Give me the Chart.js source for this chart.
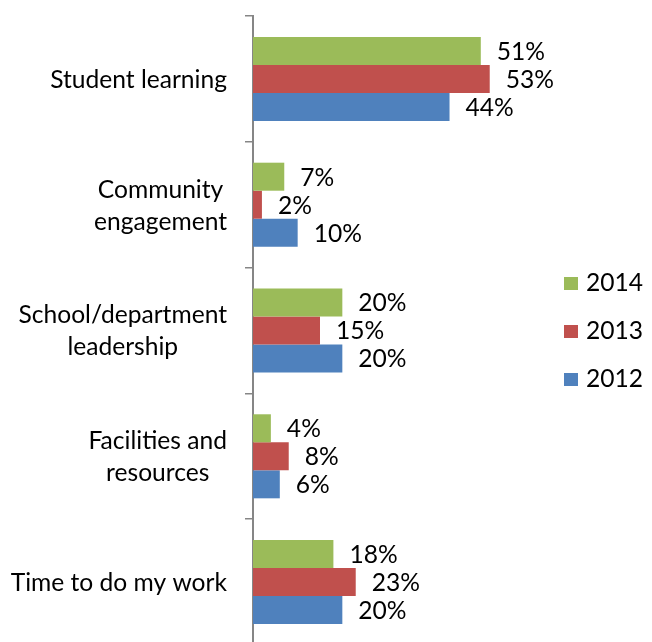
<!DOCTYPE html>
<html>
<head>
<meta charset="utf-8">
<script src="https://cdn.jsdelivr.net/npm/chart.js@4"></script>
<style>
  html, body { margin: 0; padding: 0; background: #fff; overflow: hidden; }
  canvas { display: block; }
</style>
</head>
<body>
<canvas id="myChart" width="652" height="645"></canvas>
<script>
const categories = [
  ["Student learning"],
  ["Community", "engagement"],
  ["School/department", "leadership"],
  ["Facilities and", "resources"],
  ["Time to do my work"],
];
const years = ["2014", "2013", "2012"];
const values2014 = [51, 7, 20, 4, 18];
const values2013 = [53, 2, 15, 8, 23];
const values2012 = [44, 10, 20, 6, 20];
const colors = ["#9bbb59", "#c0504d", "#4f81bd"];

const FONT = "Lato, 'Open Sans', sans-serif";
const FONT_SIZE = 24.6;

// value labels to the right of each bar
const barLabels = {
  id: "barLabels",
  afterDatasetsDraw(chart) {
    const c = chart.ctx;
    c.save();
    c.font = FONT_SIZE + "px " + FONT;
    c.fillStyle = "#000";
    c.textAlign = "left";
    c.textBaseline = "middle";
    chart.data.datasets.forEach((ds, i) => {
      chart.getDatasetMeta(i).data.forEach((bar, j) => {
        c.fillText(ds.data[j] + "%", bar.x + 16, bar.y + 1);
      });
    });
    c.restore();
  },
};

// category names: block right-aligned to the axis, lines centred in the block
const catLabels = {
  id: "catLabels",
  afterDraw(chart) {
    const c = chart.ctx;
    const y = chart.scales.y;
    const right = y.right - 26;
    const lh = 32;
    c.save();
    c.font = FONT_SIZE + "px " + FONT;
    c.fillStyle = "#000";
    c.textAlign = "center";
    c.textBaseline = "middle";
    chart.data.labels.forEach((lines, i) => {
      const w = Math.max(...lines.map((l) => c.measureText(l).width));
      const cy = y.getPixelForTick(i);
      const top = cy - ((lines.length - 1) * lh) / 2;
      lines.forEach((l, k) => c.fillText(l, right - w / 2, top + k * lh + 1));
    });
    c.restore();
  },
};

// legend on the right
const sideLegend = {
  id: "sideLegend",
  afterDraw(chart) {
    const c = chart.ctx;
    c.save();
    c.font = FONT_SIZE + "px " + FONT;
    c.textBaseline = "middle";
    c.textAlign = "left";
    chart.data.datasets.forEach((ds, i) => {
      const cy = 283 + i * 48;
      c.fillStyle = ds.backgroundColor;
      c.fillRect(564, cy - 6, 14, 13);
      c.fillStyle = "#000";
      c.fillText(ds.label, 586, cy);
    });
    c.restore();
  },
};

const ctx = document.getElementById("myChart");

const myChart = new Chart(ctx, {
  type: "bar",
  data: {
    labels: categories,
    datasets: [
      { label: years[0], data: values2014, backgroundColor: colors[0] },
      { label: years[1], data: values2013, backgroundColor: colors[1] },
      { label: years[2], data: values2012, backgroundColor: colors[2] },
    ],
  },
  options: {
    indexAxis: "y",
    responsive: false,
    animation: false,
    events: [],
    layout: {
      padding: { left: 245, right: 131, top: 16, bottom: 0 },
    },
    datasets: {
      bar: {
        categoryPercentage: 0.668,
        barPercentage: 1,
      },
    },
    plugins: {
      legend: { display: false },
      tooltip: { enabled: false },
    },
    scales: {
      x: {
        display: false,
        min: 0,
        max: 60,
      },
      y: {
        ticks: { display: false },
        grid: {
          drawOnChartArea: false,
          drawTicks: true,
          tickLength: 8,
          color: "#868686",
          lineWidth: 1.5,
        },
        border: { display: true, color: "#868686", width: 2 },
      },
    },
  },
  plugins: [barLabels, catLabels, sideLegend],
});
</script>
</body>
</html>
